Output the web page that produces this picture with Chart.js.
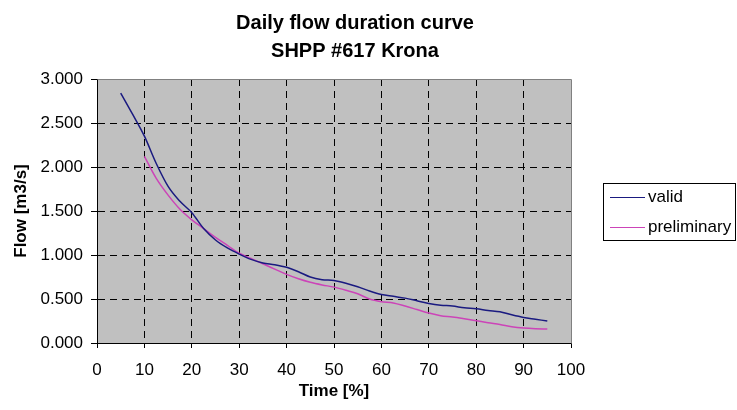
<!DOCTYPE html>
<html>
<head>
<meta charset="utf-8">
<script src="https://cdn.jsdelivr.net/npm/chart.js@4"></script>
<style>
  html, body { margin: 0; padding: 0; background: #fff; }
</style>
</head>
<body>
<canvas id="flowChart" width="737" height="410"></canvas>
<script>
// time [%] and flow [m3/s]
const validTime = [5, 7.5, 10, 12.5, 15, 17.5, 20, 22.5, 25, 27.5, 30, 32.5, 35, 37.5, 40, 42.5, 45, 47.5, 50,
    52.5, 55, 57.5, 60, 62.5, 65, 67.5, 70, 72.5, 75, 77.5, 80, 82.5, 85, 87.5, 90, 92.5, 95];
const validFlow = [2.84, 2.60, 2.35, 2.04, 1.78, 1.61, 1.48, 1.30, 1.17, 1.08, 1.01, 0.95, 0.91, 0.89, 0.86, 0.81, 0.75, 0.72, 0.71,
    0.68, 0.64, 0.59, 0.55, 0.53, 0.51, 0.48, 0.45, 0.43, 0.42, 0.40, 0.39, 0.37, 0.355, 0.32, 0.29, 0.27, 0.25];
const prelimTime = [10, 12.5, 15, 17.5, 20, 22.5, 25, 27.5, 30, 32.5, 35, 37.5, 40, 42.5, 45, 47.5, 50,
    52.5, 55, 57.5, 60, 62.5, 65, 67.5, 70, 72.5, 75, 77.5, 80, 82.5, 85, 87.5, 90, 92.5, 95];
const prelimFlow = [2.12, 1.87, 1.68, 1.52, 1.40, 1.30, 1.20, 1.11, 1.02, 0.96, 0.90, 0.84, 0.78, 0.73, 0.69, 0.66, 0.635,
    0.60, 0.56, 0.50, 0.47, 0.455, 0.42, 0.38, 0.34, 0.31, 0.295, 0.275, 0.253, 0.23, 0.21, 0.185, 0.17, 0.162, 0.158];
const seriesNames = ['valid', 'preliminary'];
const seriesColors = ['#1a1a80', '#cc44b8'];
const titleLines = ['Daily flow duration curve', 'SHPP #617 Krona'];

const FONT = "'Liberation Sans', Arial, sans-serif";

const toPoints = (xs, ys) => xs.map((x, i) => ({ x: x, y: ys[i] }));

// grey plot background, grey top/right frame, title and boxed legend
const excelLook = {
    id: 'excelLook',
    beforeDraw(chart) {
        const { ctx, chartArea: a } = chart;
        ctx.save();
        ctx.fillStyle = '#c0c0c0';
        ctx.fillRect(a.left, a.top, a.right - a.left, a.bottom - a.top);
        ctx.restore();
    },
    afterDraw(chart) {
        const { ctx, chartArea: a } = chart;
        ctx.save();
        ctx.strokeStyle = '#808080';
        ctx.lineWidth = 1;
        ctx.beginPath();
        ctx.moveTo(Math.round(a.left) + 0.5, Math.round(a.top) + 0.5);
        ctx.lineTo(Math.round(a.right) + 0.5, Math.round(a.top) + 0.5);
        ctx.lineTo(Math.round(a.right) + 0.5, Math.round(a.bottom) + 0.5);
        ctx.stroke();

        // title
        ctx.fillStyle = '#000';
        ctx.font = 'bold 20px ' + FONT;
        ctx.textAlign = 'center';
        ctx.textBaseline = 'middle';
        titleLines.forEach((t, i) => ctx.fillText(t, 355, 23.5 + i * 28));

        // legend
        ctx.fillStyle = '#fff';
        ctx.fillRect(603.5, 183.5, 132, 57);
        ctx.strokeStyle = '#000';
        ctx.strokeRect(603.5, 183.5, 132, 57);
        ctx.font = '17px ' + FONT;
        ctx.textAlign = 'left';
        chart.data.datasets.forEach((ds, i) => {
            const y = 197.5 + i * 30;
            ctx.strokeStyle = ds.borderColor;
            ctx.lineWidth = 1;
            ctx.beginPath();
            ctx.moveTo(610, y);
            ctx.lineTo(645, y);
            ctx.stroke();
            ctx.fillStyle = '#000';
            ctx.fillText(ds.label, 648, y);
        });
        ctx.restore();
    }
};

new Chart(document.getElementById('flowChart').getContext('2d'), {
    type: 'line',
    data: {
        datasets: [{
            label: seriesNames[0],
            data: toPoints(validTime, validFlow),
            borderColor: seriesColors[0],
            borderWidth: 1.5,
            pointRadius: 0,
            cubicInterpolationMode: 'monotone',
        }, {
            label: seriesNames[1],
            data: toPoints(prelimTime, prelimFlow),
            borderColor: seriesColors[1],
            borderWidth: 1.5,
            pointRadius: 0,
            cubicInterpolationMode: 'monotone',
        }],
    },
    options: {
        responsive: false,
        animation: false,
        layout: { padding: { left: 0, right: 166, top: 79, bottom: 0 } },
        plugins: {
            legend: { display: false },
            tooltip: { enabled: false },
            title: { display: false },
        },
        scales: {
            x: {
                type: 'linear',
                min: 0,
                max: 100,
                ticks: { stepSize: 10, color: '#000', font: { family: FONT, size: 17 }, padding: 12, maxRotation: 0 },
                grid: {
                    color: (c) => (c.tick && (c.tick.value === 0 || c.tick.value === 100)) ? 'rgba(0,0,0,0)' : '#000',
                    tickColor: '#000',
                    tickLength: 5,
                },
                border: { display: true, color: '#000', width: 1, dash: [7, 5] },
                title: {
                    display: true,
                    text: 'Time [%]',
                    color: '#000',
                    font: { family: FONT, size: 17, weight: 'bold' },
                    padding: { top: 2, bottom: 8 },
                },
                afterFit: (s) => { s.height = 67; },
            },
            y: {
                min: 0,
                max: 3,
                ticks: {
                    stepSize: 0.5,
                    color: '#000',
                    font: { family: FONT, size: 17 },
                    padding: 8,
                    callback: (v) => v.toFixed(3),
                },
                grid: {
                    color: (c) => (c.tick && (c.tick.value === 0 || c.tick.value === 3)) ? 'rgba(0,0,0,0)' : '#000',
                    tickColor: '#000',
                    tickLength: 6,
                },
                border: { display: true, color: '#000', width: 1, dash: [7, 5] },
                title: {
                    display: true,
                    text: 'Flow [m3/s]',
                    color: '#000',
                    font: { family: FONT, size: 17, weight: 'bold' },
                    padding: { top: 11, bottom: 4 },
                },
                afterFit: (s) => { s.width = 97; },
            },
        },
    },
    plugins: [excelLook],
});
</script>
</body>
</html>
